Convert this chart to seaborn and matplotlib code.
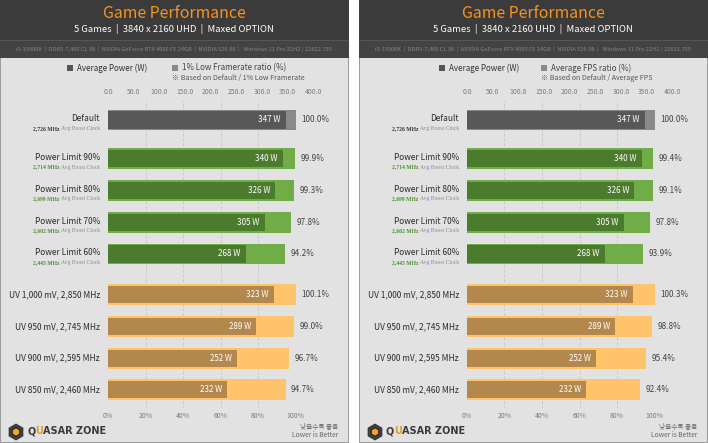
import matplotlib
matplotlib.use('Agg')
import numpy as np
import pandas as pd
import matplotlib.pyplot as plt
from matplotlib.patches import Rectangle, RegularPolygon
import seaborn as sns

sns.set_style('white')
plt.rcParams['font.family'] = ['Noto Sans CJK KR', 'DejaVu Sans']

W, H = 708, 443

# ---- data ----
configs = ['Default', 'Power Limit 90%', 'Power Limit 80%', 'Power Limit 70%', 'Power Limit 60%',
           'UV 1,000 mV, 2,850 MHz', 'UV 950 mV, 2,745 MHz', 'UV 900 mV, 2,595 MHz', 'UV 850 mV, 2,460 MHz']
groups = ['default', 'pl', 'pl', 'pl', 'pl', 'uv', 'uv', 'uv', 'uv']
boost_clock = ['2,726', '2,714', '2,699', '2,602', '2,443', None, None, None, None]
avg_power = [347, 340, 326, 305, 268, 323, 289, 252, 232]
low_ratio = [100.0, 99.9, 99.3, 97.8, 94.2, 100.1, 99.0, 96.7, 94.7]
avg_ratio = [100.0, 99.4, 99.1, 97.8, 93.9, 100.3, 98.8, 95.4, 92.4]

power_ticks = [0, 50, 100, 150, 200, 250, 300, 350, 400]
pct_ticks = [0, 20, 40, 60, 80, 100]

subtitle = '5 Games  |  3840 x 2160 UHD  |  Maxed OPTION'
specs = ('i9-13900K  |  DDR5-7,400 CL 38  |  NVIDIA GeForce RTX 4090 FE 24GB  |  '
         'NVIDIA 526.98  |   Windows 11 Pro 22H2 / 22622.755')

# ---- style ----
OUTER = {'default': '#8a8a8a', 'pl': '#70ad47', 'uv': '#ffc46b'}
INNER = {'default': '#585858', 'pl': '#4b7b2d', 'uv': '#b4874d'}
CLOCK_COL = {'default': '#333333', 'pl': '#4f8f2f'}
GAP = {'default': 0.0, 'pl': 0.22, 'uv': 0.5}

fig = plt.figure(figsize=(W / 100, H / 100), dpi=100)
renderer = fig.canvas.get_renderer()


def rect(x, y, w, h, color, z=0):
    fig.add_artist(Rectangle((x / W, 1 - (y + h) / H), w / W, h / H,
                             transform=fig.transFigure, facecolor=color,
                             edgecolor='none', zorder=z))


def ftext(x, y, s, **kw):
    return fig.text(x / W, 1 - y / H, s, **kw)


def text_width(s, **kw):
    t = fig.text(0, 0, s, **kw)
    w = t.get_window_extent(renderer).width
    t.remove()
    return w


def draw_logo(x0):
    lax = fig.add_axes([(x0 + 6) / W, 1 - 442 / H, 20 / W, 20 / H])
    lax.set_xlim(-1, 1)
    lax.set_ylim(-1, 1)
    lax.set_aspect('equal')
    lax.axis('off')
    lax.add_patch(RegularPolygon((0, 0), 6, radius=0.85, facecolor='#3a3a3a',
                                 edgecolor='none'))
    lax.add_patch(RegularPolygon((0, 0), 6, radius=0.58, facecolor='#2a2a2a',
                                 edgecolor='#555555', linewidth=0.4))
    lax.add_patch(RegularPolygon((0, 0), 6, radius=0.36, facecolor='#f7a21b',
                                 edgecolor='none'))
    kw = dict(fontsize=7.0, family='DejaVu Sans', fontweight='bold', va='baseline')
    x_start = x0 + 27
    x_end = x_start + text_width('QUASAR ZONE', **kw)
    w_rest = text_width('ASAR ZONE', **kw)
    ftext(x_start, 434.5, 'Q', color='#3a3a3a', ha='left', **kw)
    ftext(x_end - w_rest, 434.5, 'U', color='#e99a2c', ha='right', **kw)
    ftext(x_end, 434.5, 'ASAR ZONE', color='#3a3a3a', ha='right', **kw)


def draw_panel(x0, ratio, ratio_name, note, leg_x):
    # background
    rect(x0, 0, 349, H, '#9c9c9c')
    rect(x0, 0, 349, 40, '#3b3b3b')
    rect(x0, 40, 349, 18, '#434343')
    rect(x0, 40, 349, 0.8, '#565656')
    rect(x0 + 1.2, 58, 346.6, H - 59.5, '#e2e2e2')

    ftext(x0 + 174, 13, 'Game Performance', color='#f7931e', fontsize=11.4,
          fontweight='medium', ha='center', va='center')
    ftext(x0 + 174, 29, subtitle, color='white', fontsize=6.8, ha='center', va='center')
    ftext(x0 + 174, 49, specs, color='#858585', fontsize=4.1, ha='center', va='center')

    # legend
    rect(x0 + leg_x[0], 65, 6, 6, '#555555', 2)
    ftext(x0 + leg_x[0] + 10, 68, 'Average Power (W)', color='#333333', fontsize=5.8,
          ha='left', va='center')
    rect(x0 + leg_x[1], 65, 6, 6, '#8a8a8a', 2)
    ftext(x0 + leg_x[1] + 10, 68, ratio_name, color='#444444', fontsize=5.8,
          ha='left', va='center')
    ftext(x0 + leg_x[1], 78, note, color='#555555', fontsize=5.1, ha='left', va='center')

    df = pd.DataFrame({'config': configs, 'group': groups, 'power': avg_power,
                       'ratio': ratio,
                       'pos': [i + GAP[g] for i, g in enumerate(groups)]})
    outer_pal = {c: OUTER[g] for c, g in zip(configs, groups)}
    inner_pal = {c: INNER[g] for c, g in zip(configs, groups)}

    ax = fig.add_axes([(x0 + 108) / W, 1 - 408 / H, 212 / W, 308 / H])
    ax.patch.set_alpha(0)
    sns.barplot(data=df, x='ratio', y='pos', hue='config', palette=outer_pal,
                orient='y', native_scale=True, dodge=False, width=0.66,
                errorbar=None, saturation=1, legend=False, ax=ax, linewidth=0)
    ax2 = ax.twiny()
    sns.barplot(data=df, x='power', y='pos', hue='config', palette=inner_pal,
                orient='y', native_scale=True, dodge=False, width=0.54,
                errorbar=None, saturation=1, legend=False, ax=ax2, linewidth=0)

    ax.set_xlim(0, 212 / 1.875)
    ax2.set_xlim(0, 212 / 0.51375)
    ax.set_ylim((408 - 120) / 31.75, (100 - 120) / 31.75)

    ax.set_xticks(pct_ticks)
    ax.set_xticklabels([f'{v}%' for v in pct_ticks])
    ax2.set_xticks(power_ticks)
    ax2.set_xticklabels([f'{v:.1f}' for v in power_ticks])
    for a in (ax, ax2):
        a.tick_params(axis='x', length=0, labelsize=4.9, colors='#7a7a7a', pad=3)
        a.tick_params(axis='y', left=False, labelleft=False, right=False, labelright=False)
        a.set_xlabel('')
        a.set_ylabel('')
        for s in a.spines.values():
            s.set_visible(False)

    ax.grid(axis='x', color='#c9c9c9', linestyle=(0, (3, 2)), linewidth=0.7)
    ax.grid(axis='y', visible=False)
    ax.set_axisbelow(True)
    gl = ax.xaxis.get_gridlines()
    gl[0].set_visible(False)
    gl[-1].set_visible(False)

    for _, r in df.iterrows():
        ax2.annotate(f"{r['power']} W", (r['power'], r['pos']), xytext=(-3.8, 0),
                     textcoords='offset points', ha='right', va='center',
                     color='white', fontsize=5.8)
        ax.annotate(f"{r['ratio']:.1f}%", (r['ratio'], r['pos']), xytext=(4, 0),
                    textcoords='offset points', ha='left', va='center',
                    color='#444444', fontsize=5.9)

    for i, r in df.iterrows():
        clk = boost_clock[i]
        dy = 0.8 if clk else 0
        ax.annotate(r['config'], (0, r['pos']), xytext=(-5.8, dy),
                    textcoords='offset points', ha='right', va='center',
                    color='#2b2b2b', fontsize=6.0, annotation_clip=False)
        if clk:
            t = ax.annotate('Avg Boost Clock', (0, r['pos']), xytext=(-5.8, -6),
                            textcoords='offset points', ha='right', va='center',
                            color='#8a8a8a', fontsize=4.1, family='Liberation Serif',
                            annotation_clip=False)
            ax.annotate(f'{clk} MHz ', (0, 0.5), xycoords=t, ha='right', va='center',
                        color=CLOCK_COL[r['group']], fontsize=4.1,
                        family='Liberation Serif', fontweight='bold')

    draw_logo(x0)
    ftext(x0 + 338, 427, '낮을수록 좋음', color='#666666', fontsize=4.8, ha='right', va='center')
    ftext(x0 + 338, 435, 'Lower is Better', color='#666666', fontsize=4.8, ha='right', va='center')


draw_panel(0, low_ratio, '1% Low Framerate ratio (%)',
           '※ Based on Default / 1% Low Framerate', (67, 172))
draw_panel(359, avg_ratio, 'Average FPS ratio (%)',
           '※ Based on Default / Average FPS', (80, 182))

fig.savefig('out.png', dpi=100, facecolor='white')
